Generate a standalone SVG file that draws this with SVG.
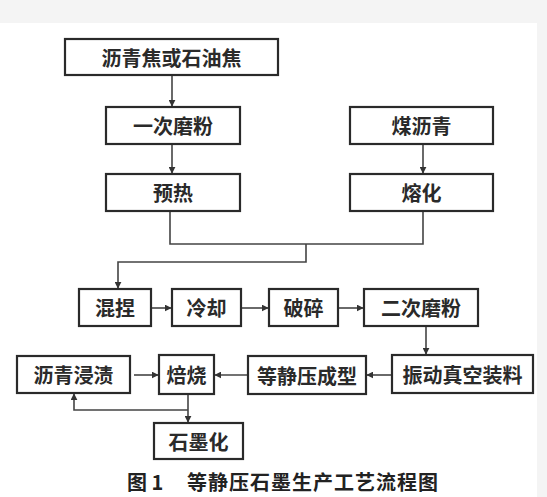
<svg xmlns="http://www.w3.org/2000/svg" width="547" height="497" viewBox="0 0 547 497">
<defs>
<marker id="ah" viewBox="0 0 10 10" refX="9" refY="5" markerWidth="7" markerHeight="7" markerUnits="userSpaceOnUse" orient="auto">
<path d="M0,0 L10,5 L0,10 z" fill="#333"/>
</marker>
</defs>
<style>
.box rect{fill:#fff;stroke:#2a2a2a;stroke-width:2.2}
.box text{font-family:"Noto Sans CJK SC","Noto Sans CJK TC",sans-serif;font-size:20px;font-weight:700;fill:#2a2a2a;text-anchor:middle;dominant-baseline:central}
.c{fill:none;stroke:#444;stroke-width:1.6}
.a{marker-end:url(#ah)}
.cap{font-family:"Noto Sans CJK SC",sans-serif;font-size:20px;font-weight:700;fill:#222}
</style>
<rect x="0" y="0" width="547" height="497" fill="#fff"/>
<rect x="0" y="0" width="547" height="23" fill="#f4f4f4"/>
<rect x="537" y="23" width="10" height="474" fill="#f4f4f4"/>
<g id="connectors">
<path class="c a" d="M172,75 V106"/>
<path class="c a" d="M172,144 V173"/>
<path class="c a" d="M423,144 V173"/>
<path class="c" d="M170,211 V244 H423 V211"/>
<path class="c a" d="M306,244 V262 H118 V288"/>
<path class="c a" d="M151,308 H171"/>
<path class="c a" d="M241,308 H268"/>
<path class="c a" d="M338,308 H363"/>
<path class="c a" d="M426,326 V354"/>
<path class="c a" d="M391,375 H367"/>
<path class="c a" d="M248,375 H215"/>
<path class="c a" d="M134,375 H158"/>
<path class="c a" d="M188,394 V422"/>
<path class="c a" d="M188,410 H74 V394"/>
</g>
<g id="n1" class="box"><rect x="65" y="39" width="213" height="36"/><text x="171.5" y="57">沥青焦或石油焦</text></g>
<g id="n2" class="box"><rect x="106" y="107" width="134" height="37"/><text x="173" y="125.5">一次磨粉</text></g>
<g id="n3" class="box"><rect x="106" y="174" width="134" height="37"/><text x="173" y="192.5">预热</text></g>
<g id="n4" class="box"><rect x="350" y="107" width="143" height="37"/><text x="421.5" y="125.5">煤沥青</text></g>
<g id="n5" class="box"><rect x="350" y="174" width="143" height="37"/><text x="421.5" y="192.5">熔化</text></g>
<g id="n6" class="box"><rect x="79" y="289" width="72" height="37"/><text x="115" y="307.5">混捏</text></g>
<g id="n7" class="box"><rect x="172" y="289" width="69" height="37"/><text x="206.5" y="307.5">冷却</text></g>
<g id="n8" class="box"><rect x="269" y="289" width="69" height="37"/><text x="303.5" y="307.5">破碎</text></g>
<g id="n9" class="box"><rect x="364" y="289" width="114" height="37"/><text x="421" y="307.5">二次磨粉</text></g>
<g id="n10" class="box"><rect x="392" y="355" width="141" height="38"/><text x="462.5" y="374">振动真空装料</text></g>
<g id="n11" class="box"><rect x="248" y="356" width="118" height="38"/><text x="307" y="375">等静压成型</text></g>
<g id="n12" class="box"><rect x="159" y="355" width="55" height="39"/><text x="186.5" y="374.5">焙烧</text></g>
<g id="n13" class="box"><rect x="17" y="356" width="113" height="37"/><text x="73.5" y="374.5">沥青浸渍</text></g>
<g id="n14" class="box"><rect x="154" y="423" width="89" height="36"/><text x="198.5" y="441">石墨化</text></g>
<text class="cap" x="127" y="490">图 1</text>
<text class="cap" x="187" y="490" letter-spacing="1">等静压石墨生产工艺流程图</text>
</svg>
